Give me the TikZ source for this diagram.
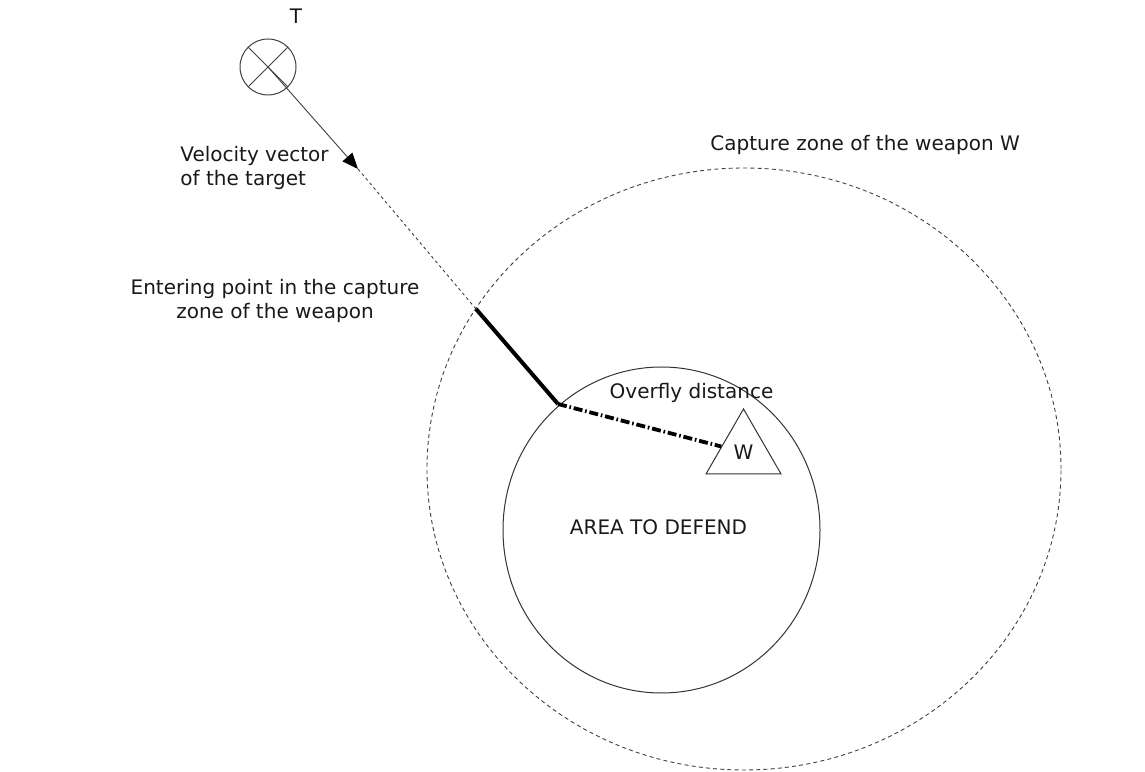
\documentclass[tikz,border=0pt]{standalone}
\usepackage{fontspec}
\setmainfont{DejaVu Sans}
\usepackage{tikz}
\usetikzlibrary{positioning, arrows.meta, shapes.geometric}

\begin{document}
\begin{tikzpicture}[
    x=0.5pt, y=0.5pt,
    lbl/.style={font=\fontsize{10}{12}\selectfont, inner sep=0pt, text=black!90},
    zone/.style={draw=black!75, line width=0.45pt, dash pattern=on 2pt off 1.6pt},
    area/.style={draw=black!80, line width=0.5pt},
    vel/.style={draw=black!75, line width=0.45pt},
    track/.style={draw=black, line width=2pt},
    overfly/.style={draw=black, line width=1.9pt, dash pattern=on 4.5pt off 1.4pt on 0.8pt off 1.4pt},
    arr/.style={-{Triangle[length=8pt, width=6.5pt, color=black]}}
]
    \useasboundingbox (0,0) rectangle (1145,771);

    % zones
    \draw[zone] (744,302) ellipse[x radius=317, y radius=301];
    \draw[area] (661.5,241) ellipse[x radius=158.5, y radius=163];

    % target and weapon
    \node[circle, draw=black!75, line width=0.5pt, minimum size=28pt, inner sep=0pt] (tgt) at (268,704) {};
    \draw[vel] (tgt.north west) -- (tgt.south east);
    \draw[vel] (tgt.north east) -- (tgt.south west);
    \node[lbl, above=7.5pt of tgt.north, xshift=14pt] (tname) {T};
    \node[regular polygon, regular polygon sides=3, draw=black!80, line width=0.5pt,
          minimum size=43.3pt, inner sep=0pt, lbl] (wpn) at (743.5,318.7) {W};

    \coordinate (tip) at (358,602);
    \coordinate (entry) at (476,462);
    \coordinate (closest) at (558,367);

    \draw[vel, arr] (tgt.center) -- (tip);
    \draw[vel, dash pattern=on 1.5pt off 1.5pt] (tip) -- (entry);
    \draw[track] (entry) -- (closest);
    \draw[overfly] (closest) -- (wpn);

    % labels
    \node[lbl, anchor=west, align=left] (vlabel) at (180,603.5) {Velocity vector\\of the target};
    \node[lbl, anchor=west] (zlabel) at (710,626) {Capture zone of the weapon W};
    \node[lbl, align=center] (elabel) at (275,470) {Entering point in the capture\\zone of the weapon};
    \node[lbl] (olabel) at (691.5,378) {Overfly distance};
    \node[lbl] (alabel) at (658.5,244) {AREA TO DEFEND};
\end{tikzpicture}
\end{document}
